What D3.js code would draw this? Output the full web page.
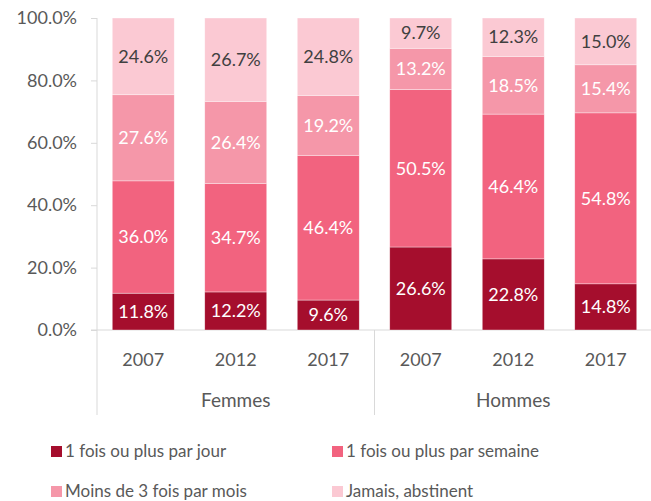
<!DOCTYPE html>
<html>
<head>
<meta charset="utf-8">
<script src="https://cdn.jsdelivr.net/npm/d3@7"></script>
<style>
  body { margin: 0; background: #fff; }
  text { font-family: Lato, "Open Sans", sans-serif; }
</style>
</head>
<body>
<svg id="chart" width="651" height="501"></svg>
<script>
// data
var groups = ["Femmes", "Hommes"];
var years = ["2007", "2012", "2017"];
var series = ["1 fois ou plus par jour", "1 fois ou plus par semaine", "Moins de 3 fois par mois", "Jamais, abstinent"];
var jour    = [11.8, 12.2, 9.6, 26.6, 22.8, 14.8];
var semaine = [36.0, 34.7, 46.4, 50.5, 46.4, 54.8];
var moins   = [27.6, 26.4, 19.2, 13.2, 18.5, 15.4];
var jamais  = [24.6, 26.7, 24.8, 9.7, 12.3, 15.0];
var yTicks = [0, 20, 40, 60, 80, 100];

var colors = ["#a50e2d", "#f2637f", "#f597a9", "#fbc9d3"];
var labelColors = ["#fff", "#fff", "#fff", "#404040"];

var rows = [];
groups.forEach(function(g, gi) {
	years.forEach(function(y, yi) {
		var i = gi * 3 + yi;
		rows.push({ key: g + "-" + y, group: g, year: y,
			s0: jour[i], s1: semaine[i], s2: moins[i], s3: jamais[i] });
	});
});

var svg = d3.select("#chart");
var plotLeft = 97, plotRight = 652, plotTop = 18, plotBottom = 330;

var xScale = d3.scaleBand()
	.domain(rows.map(function(d) { return d.key; }))
	.range([plotLeft, plotRight])
	.paddingInner(0.33)
	.paddingOuter(0.165);

var yScale = d3.scaleLinear().domain([0, 100]).range([plotBottom, plotTop]);

var stack = d3.stack().keys(["s0", "s1", "s2", "s3"]);
var stacked = stack(rows);

// axis lines
var gridColor = "#d9d9d9";
svg.append("line").attr("x1", plotLeft).attr("x2", plotLeft).attr("y1", plotTop).attr("y2", 415)
	.attr("stroke", gridColor);
svg.append("line").attr("x1", 91).attr("x2", 651).attr("y1", plotBottom).attr("y2", plotBottom)
	.attr("stroke", gridColor);
// group separator
var step = xScale.step();
svg.append("line")
	.attr("x1", plotLeft + step * 3).attr("x2", plotLeft + step * 3)
	.attr("y1", plotBottom).attr("y2", 415)
	.attr("stroke", gridColor);

// y axis
var yAxis = svg.append("g").attr("transform", "translate(" + plotLeft + ",0)")
	.call(d3.axisLeft(yScale).tickValues(yTicks).tickSize(6).tickPadding(14)
		.tickFormat(function(d) { return d3.format(".1f")(d) + "%"; }));
yAxis.select(".domain").remove();
yAxis.selectAll(".tick line").attr("stroke", gridColor);
yAxis.selectAll(".tick text").attr("fill", "#595959").style("font-size", "18px")
	.style("font-family", "Lato, sans-serif");

// bars
var layers = svg.selectAll(".layer").data(stacked).enter().append("g")
	.attr("class", "layer")
	.attr("fill", function(d, i) { return colors[i]; });

layers.selectAll("rect").data(function(d) { return d; }).enter().append("rect")
	.attr("x", function(d) { return xScale(d.data.key); })
	.attr("width", xScale.bandwidth())
	.attr("y", function(d) { return yScale(d[1]); })
	.attr("height", function(d) { return yScale(d[0]) - yScale(d[1]); })
	.attr("stroke", "#fff").attr("stroke-width", 0.6).attr("stroke-opacity", 0.6);

// bar labels
stacked.forEach(function(layer, li) {
	svg.append("g").selectAll("text").data(layer).enter().append("text")
		.attr("x", function(d) { return xScale(d.data.key) + xScale.bandwidth() / 2; })
		.attr("y", function(d) { return (yScale(d[0]) + yScale(d[1])) / 2; })
		.attr("dy", "0.35em")
		.attr("text-anchor", "middle")
		.attr("fill", labelColors[li])
		.style("font-size", "18px")
		.text(function(d) { return d3.format(".1f")(d[1] - d[0]) + "%"; });
});

// year labels
svg.append("g").selectAll("text").data(rows).enter().append("text")
	.attr("x", function(d) { return xScale(d.key) + xScale.bandwidth() / 2; })
	.attr("y", 360).attr("dy", "0.35em")
	.attr("text-anchor", "middle").attr("fill", "#595959")
	.style("font-size", "18px")
	.text(function(d) { return d.year; });

// group labels
svg.append("g").selectAll("text").data(groups).enter().append("text")
	.attr("x", function(d, i) { return plotLeft + step * 3 * i + step * 1.5; })
	.attr("y", 400).attr("dy", "0.35em")
	.attr("text-anchor", "middle").attr("fill", "#595959")
	.style("font-size", "19px")
	.text(function(d) { return d; });

// legend
var legendPos = [[51, 451], [332, 451], [51, 491], [332, 491]];
var legend = svg.append("g").selectAll("g").data(series).enter().append("g")
	.attr("transform", function(d, i) { return "translate(" + legendPos[i][0] + "," + legendPos[i][1] + ")"; });
legend.append("rect").attr("x", 0).attr("y", -5).attr("width", 11).attr("height", 11)
	.attr("fill", function(d, i) { return colors[i]; });
legend.append("text").attr("x", 14).attr("dy", "0.35em")
	.attr("fill", "#595959").style("font-size", "17px")
	.text(function(d) { return d; });
</script>
</body>
</html>
